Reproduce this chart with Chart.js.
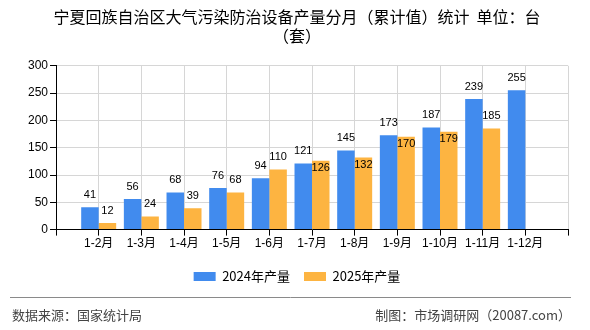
<!DOCTYPE html>
<html>
<head>
<meta charset="utf-8">
<script src="https://cdn.jsdelivr.net/npm/chart.js@4.4.1/dist/chart.umd.min.js"></script>
<style>
html,body{margin:0;padding:0;background:#fff;}
#wrap{width:590px;height:330px;position:relative;}
</style>
</head>
<body>
<div id="wrap"><canvas id="c" width="590" height="330"></canvas></div>
<script>
const categories = ['1-2月','1-3月','1-4月','1-5月','1-6月','1-7月','1-8月','1-9月','1-10月','1-11月','1-12月'];
const values2024 = [41,56,68,76,94,121,145,173,187,239,255];
const values2025 = [12,24,39,68,110,126,132,170,179,185,null];
const yTicks = [0,50,100,150,200,250,300];
const seriesNames = ['2024年产量','2025年产量'];
const titleLines = ['宁夏回族自治区大气污染防治设备产量分月（累计值）统计  单位：台','（套）'];
const sourceText = '数据来源：国家统计局';
const makerText = '制图：市场调研网（20087.com）';

// pad with empty slots on both ends (axis spans one extra slot each side)
const labels = [''].concat(categories, ['']);
const d2024 = [null].concat(values2024, [null]);
const d2025 = [null].concat(values2025, [null]);

const FONT = '"Liberation Sans", Arial, "Noto Sans CJK SC", sans-serif';
const CJK = '"Noto Sans CJK SC", "Liberation Sans", sans-serif';

const valueLabels = {
  id: 'valueLabels',
  afterDatasetsDraw(chart) {
    const ctx = chart.ctx;
    ctx.save();
    ctx.font = '11px ' + FONT;
    ctx.fillStyle = '#000';
    ctx.textAlign = 'center';
    ctx.textBaseline = 'middle';
    const boxes = [];
    const m0 = chart.getDatasetMeta(0), m1 = chart.getDatasetMeta(1);
    const ds0 = chart.data.datasets[0].data, ds1 = chart.data.datasets[1].data;
    m0.data.forEach((el, i) => {
      const v = ds0[i]; if (v == null) return;
      const t = String(v), w = ctx.measureText(t).width;
      const y = el.y - 12.5;
      ctx.fillText(t, el.x, y);
      boxes[i] = {l: el.x - w/2, r: el.x + w/2, t: y - 5, b: y + 5};
    });
    m1.data.forEach((el, i) => {
      const v = ds1[i]; if (v == null) return;
      const t = String(v), w = ctx.measureText(t).width;
      let y = el.y - 12.5;
      const b = boxes[i];
      if (b && (el.x - w/2) < b.r + 0.5 && (y + 5) > b.t && (y - 5) < b.b) y = el.y + 7;
      ctx.fillText(t, el.x, y);
    });
    ctx.restore();
  }
};

const footer = {
  id: 'footer',
  afterLayout(chart) {
    if (chart.legend) { chart.legend.top += 4; chart.legend.bottom += 4; }
  },
  afterDraw(chart) {
    const ctx = chart.ctx;
    ctx.save();
    ctx.strokeStyle = '#8a8a8a';
    ctx.lineWidth = 1;
    ctx.beginPath();
    ctx.moveTo(10, 297.5); ctx.lineTo(571, 297.5);
    ctx.stroke();
    ctx.font = '13px ' + CJK;
    ctx.fillStyle = '#444';
    ctx.textBaseline = 'middle';
    ctx.textAlign = 'left';
    ctx.fillText(sourceText, 12, 315);
    ctx.textAlign = 'right';
    ctx.fillText(makerText, 571, 315);
    ctx.restore();
  }
};

new Chart(document.getElementById('c'), {
  type: 'bar',
  data: {
    labels: labels,
    datasets: [
      {label: seriesNames[0], data: d2024, backgroundColor: '#418bee', categoryPercentage: 0.82, barPercentage: 1},
      {label: seriesNames[1], data: d2025, backgroundColor: '#fdb441', categoryPercentage: 0.82, barPercentage: 1}
    ]
  },
  options: {
    responsive: false,
    animation: false,
    devicePixelRatio: 1,
    layout: {padding: {left: 26, right: 22, top: 0, bottom: 41}},
    plugins: {
      title: {
        display: true,
        text: titleLines,
        color: '#000',
        font: {family: CJK, size: 16, weight: 'normal', lineHeight: 1.15},
        padding: {top: 8, bottom: 21}
      },
      legend: {
        display: true,
        position: 'bottom',
        labels: {
          boxWidth: 22, boxHeight: 9, padding: 14,
          color: '#000',
          font: {family: CJK, size: 13}
        }
      },
      tooltip: {enabled: false}
    },
    scales: {
      x: {
        offset: false,
        grid: {offset: false, color: '#d6d6d6', tickColor: '#000', tickLength: 6, lineWidth: 1},
        border: {display: true, color: '#000'},
        ticks: {color: '#000', font: {family: FONT, size: 12}, autoSkip: false, maxRotation: 0, padding: 1}
      },
      y: {
        min: 0, max: 300,
        afterBuildTicks(scale) { scale.ticks = yTicks.map(v => ({value: v})); },
        grid: {color: '#d6d6d6', tickColor: '#000', tickLength: 6},
        border: {display: true, color: '#000'},
        ticks: {color: '#000', font: {family: FONT, size: 12}, padding: 2}
      }
    }
  },
  plugins: [valueLabels, footer]
});
</script>
</body>
</html>
